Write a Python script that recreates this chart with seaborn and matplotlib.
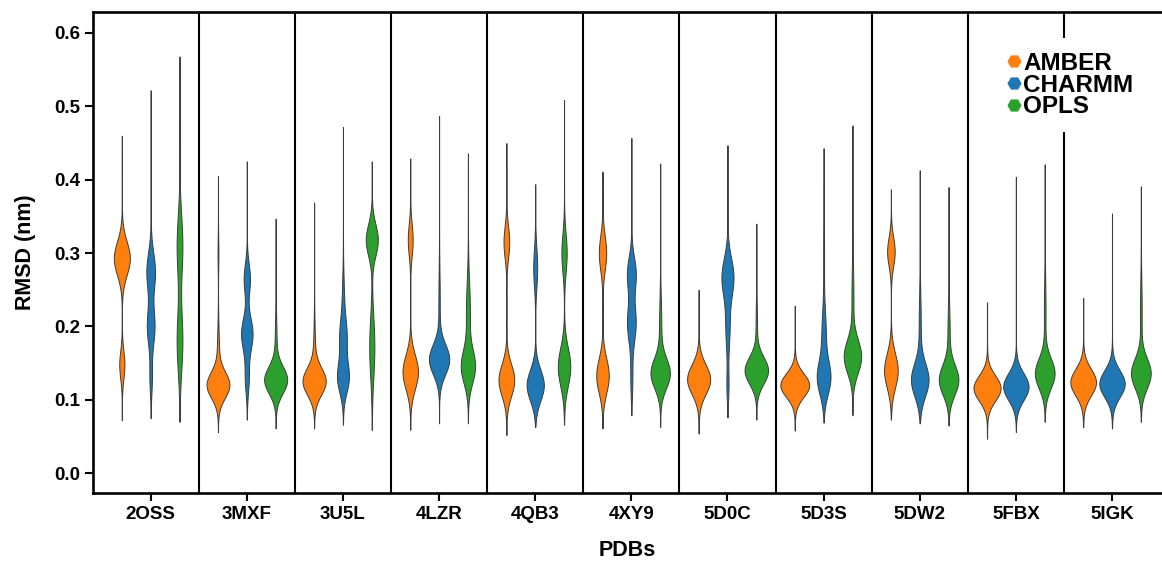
import numpy as np
import pandas as pd
import matplotlib
matplotlib.use("Agg")
import matplotlib.pyplot as plt
import seaborn as sns
from matplotlib.lines import Line2D

# ---------------- data ----------------
pdbs = ["2OSS", "3MXF", "3U5L", "4LZR", "4QB3", "4XY9",
        "5D0C", "5D3S", "5DW2", "5FBX", "5IGK"]
forcefields = ["AMBER", "CHARMM", "OPLS"]
colors = ["#ff7f0e", "#1f77b4", "#2ca02c"]

# extremes of each violin (nm)
amber_min = [0.072, 0.056, 0.061, 0.059, 0.052, 0.061, 0.054, 0.058, 0.073, 0.047, 0.063]
amber_max = [0.460, 0.405, 0.369, 0.429, 0.450, 0.411, 0.250, 0.228, 0.387, 0.233, 0.239]
charmm_min = [0.075, 0.073, 0.066, 0.068, 0.063, 0.079, 0.076, 0.069, 0.068, 0.056, 0.061]
charmm_max = [0.522, 0.425, 0.472, 0.487, 0.394, 0.457, 0.447, 0.443, 0.413, 0.404, 0.354]
opls_min = [0.070, 0.061, 0.059, 0.068, 0.066, 0.063, 0.073, 0.079, 0.065, 0.070, 0.070]
opls_max = [0.568, 0.347, 0.425, 0.436, 0.509, 0.422, 0.340, 0.474, 0.390, 0.421, 0.391]

# modes of each violin: (centre, spread, weight)
amber_modes = [
    [(0.293, 0.022, 0.75), (0.148, 0.018, 0.20)],
    [(0.120, 0.017, 0.80), (0.165, 0.030, 0.12), (0.300, 0.020, 0.03)],
    [(0.125, 0.018, 0.85), (0.170, 0.030, 0.10)],
    [(0.318, 0.020, 0.20), (0.138, 0.022, 0.70)],
    [(0.315, 0.020, 0.25), (0.127, 0.020, 0.70)],
    [(0.300, 0.022, 0.35), (0.133, 0.022, 0.60)],
    [(0.128, 0.020, 0.93)],
    [(0.120, 0.016, 0.95)],
    [(0.302, 0.018, 0.30), (0.140, 0.022, 0.65)],
    [(0.116, 0.017, 0.95)],
    [(0.124, 0.018, 0.95)],
]
charmm_modes = [
    [(0.275, 0.025, 0.45), (0.200, 0.025, 0.40), (0.130, 0.020, 0.10)],
    [(0.190, 0.022, 0.50), (0.265, 0.020, 0.25), (0.130, 0.020, 0.15)],
    [(0.130, 0.020, 0.45), (0.185, 0.025, 0.35), (0.240, 0.030, 0.10)],
    [(0.155, 0.020, 0.80), (0.230, 0.040, 0.10)],
    [(0.120, 0.020, 0.72), (0.280, 0.025, 0.20)],
    [(0.272, 0.022, 0.40), (0.205, 0.025, 0.45), (0.130, 0.025, 0.10)],
    [(0.268, 0.025, 0.60), (0.200, 0.030, 0.25), (0.120, 0.020, 0.08)],
    [(0.130, 0.022, 0.60), (0.190, 0.030, 0.25), (0.300, 0.050, 0.08)],
    [(0.127, 0.022, 0.75), (0.200, 0.040, 0.15)],
    [(0.118, 0.018, 0.95)],
    [(0.122, 0.018, 0.93)],
]
opls_modes = [
    [(0.310, 0.040, 0.45), (0.180, 0.040, 0.45)],
    [(0.127, 0.018, 0.85), (0.180, 0.030, 0.10)],
    [(0.318, 0.020, 0.50), (0.172, 0.040, 0.40)],
    [(0.145, 0.022, 0.60), (0.220, 0.040, 0.30)],
    [(0.300, 0.025, 0.25), (0.145, 0.025, 0.60)],
    [(0.136, 0.020, 0.78), (0.200, 0.035, 0.15)],
    [(0.140, 0.018, 0.88), (0.200, 0.030, 0.08)],
    [(0.159, 0.022, 0.78), (0.240, 0.040, 0.15)],
    [(0.127, 0.020, 0.80), (0.190, 0.035, 0.15)],
    [(0.136, 0.020, 0.82), (0.220, 0.040, 0.13)],
    [(0.136, 0.020, 0.82), (0.220, 0.040, 0.13)],
]

series = {
    "AMBER": (amber_min, amber_max, amber_modes),
    "CHARMM": (charmm_min, charmm_max, charmm_modes),
    "OPLS": (opls_min, opls_max, opls_modes),
}


def expand(lo, hi, modes, n=4000, tail=0.03):
    """Turn the read extremes and modes into evenly spaced quantile samples."""
    grid = np.linspace(lo, hi, 4001)
    pdf = np.full_like(grid, tail / (hi - lo))
    for m, s, w in modes:
        pdf += w * np.exp(-0.5 * ((grid - m) / s) ** 2) / (s * np.sqrt(2 * np.pi))
    cdf = np.concatenate([[0.0], np.cumsum((pdf[1:] + pdf[:-1]) / 2 * np.diff(grid))])
    cdf /= cdf[-1]
    q = (np.arange(n) + 0.5) / n
    vals = np.interp(q, cdf, grid)
    vals[0], vals[-1] = lo, hi
    return vals


rows = []
for ff in forcefields:
    mins, maxs, modes = series[ff]
    for i, pdb in enumerate(pdbs):
        for v in expand(mins[i], maxs[i], modes[i]):
            rows.append((pdb, ff, v))
df = pd.DataFrame(rows, columns=["PDB", "Force field", "RMSD"])

# ---------------- plotting ----------------
sns.set_style("ticks")
plt.rcParams["font.family"] = ["Liberation Sans", "DejaVu Sans"]
plt.rcParams["font.weight"] = "bold"
plt.rcParams["text.color"] = "black"
plt.rcParams["axes.labelcolor"] = "black"
plt.rcParams["xtick.color"] = "black"
plt.rcParams["ytick.color"] = "black"

fig = plt.figure(figsize=(11.62, 5.63), dpi=100)
ax = fig.add_axes([93 / 1162, 70 / 563, 1069 / 1162, 481 / 563])

palette = dict(zip(forcefields, colors))
sns.violinplot(data=df, x="PDB", y="RMSD", hue="Force field",
               order=pdbs, hue_order=forcefields, palette=palette,
               width=0.9, cut=0, inner=None, density_norm="area",
               common_norm=True, bw_adjust=0.5, gridsize=300,
               linewidth=0.7, linecolor="#3c3c3c", saturation=1,
               legend=False, ax=ax)

for i in range(len(pdbs) - 1):
    ax.axvline(i + 0.5, color="black", lw=1.5, zorder=3)

ax.set_xlim(-0.6, 10.52)
ax.set_ylim(-0.027, 0.6286)
ax.set_yticks(np.arange(0, 0.61, 0.1))
ax.set_yticklabels([f"{t:.1f}" for t in np.arange(0, 0.61, 0.1)])

for s in ["left", "bottom", "top"]:
    ax.spines[s].set_linewidth(1.9)
    ax.spines[s].set_color("black")
ax.spines["right"].set_visible(False)

ax.tick_params(axis="both", length=6, width=1.5, color="black",
               labelcolor="black", labelsize=13.5, pad=3.5)
for lab in ax.get_xticklabels() + ax.get_yticklabels():
    lab.set_fontweight("bold")

ax.set_xlabel("PDBs", fontsize=15.5, fontweight="bold", labelpad=12, color="black")
ax.set_ylabel("RMSD (nm)", fontsize=15.5, fontweight="bold", labelpad=13, color="black")

handles = [Line2D([], [], marker="H", ls="", color=c, markersize=9) for c in colors]
leg = ax.legend(handles, forcefields, loc="upper left",
                bbox_to_anchor=(0.842, 0.945),
                prop=dict(weight="bold", size=17.5),
                frameon=True, fancybox=False, edgecolor="none",
                facecolor="white", framealpha=1,
                handlelength=0.6, handletextpad=0.1, labelspacing=-0.05,
                borderpad=0.55, borderaxespad=0)
for t in leg.get_texts():
    t.set_color("black")
leg.set_zorder(5)

fig.savefig("out.png", dpi=100)
